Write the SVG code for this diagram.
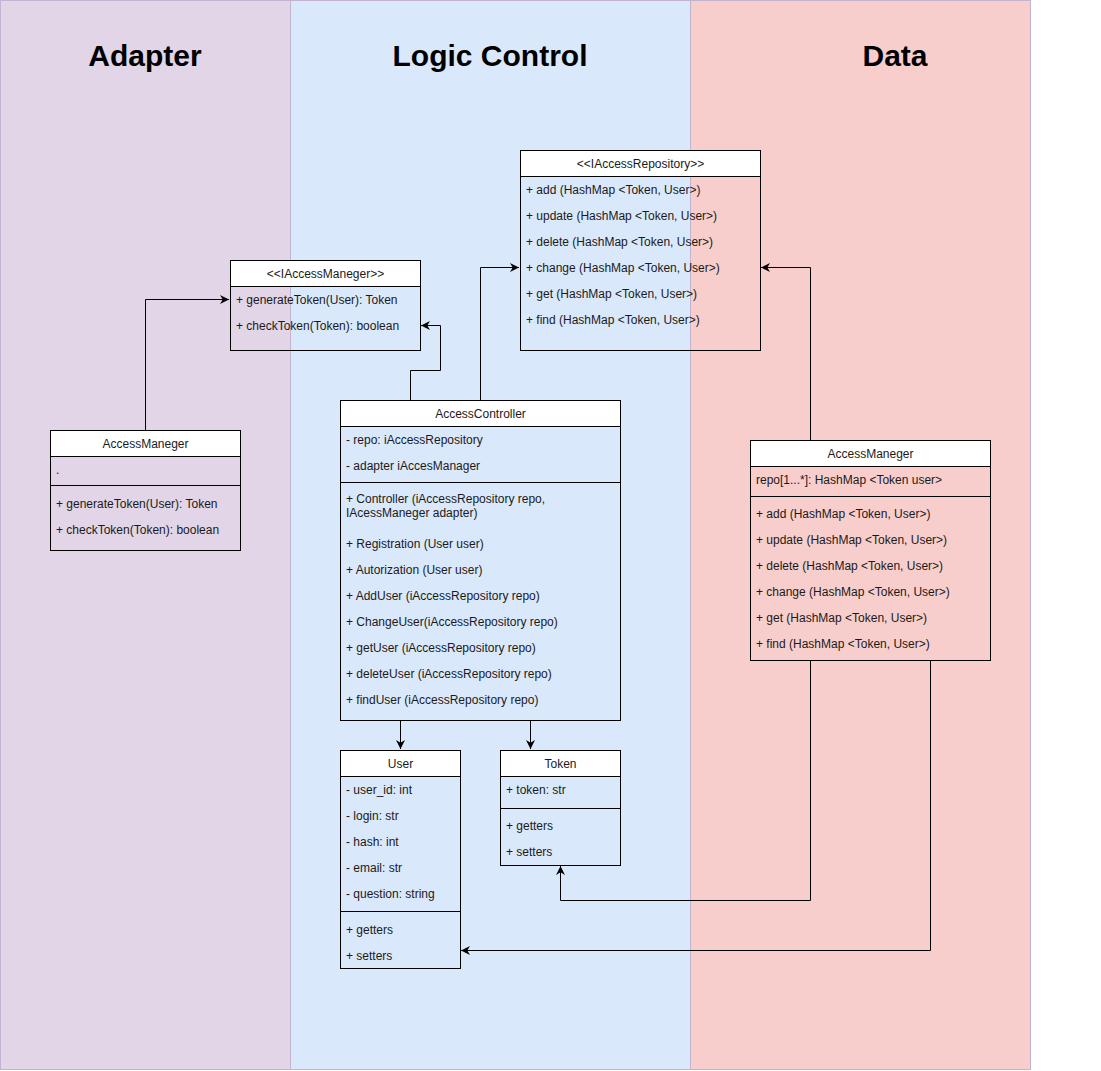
<svg xmlns="http://www.w3.org/2000/svg" width="1101" height="1071" viewBox="0 0 1101 1071">
<defs>
<style>
.lane{stroke:#c2b3d3;stroke-width:1}
.title{font-family:"Liberation Sans",Arial,sans-serif;font-size:30px;font-weight:bold;fill:#000;text-anchor:middle}
.hd{fill:#fff;stroke:#000;stroke-width:1}
.bx{fill:none;stroke:#000;stroke-width:1}
.dv{stroke:#000;stroke-width:1}
.t{font-family:"Liberation Sans",Arial,sans-serif;font-size:12px;fill:#1a1a1a}
.c{text-anchor:middle}
.cn{fill:none;stroke:#000;stroke-width:1}
</style>
<marker id="ar" viewBox="0 0 10 10" refX="10" refY="5" markerWidth="9" markerHeight="9" markerUnits="userSpaceOnUse" orient="auto">
<path d="M0 0 L10 5 L0 10 L3 5 Z" fill="#000"/>
</marker>
</defs>
<rect width="1101" height="1071" fill="#fff"/>
<g id="lanes">
<rect class="lane" x="0.5" y="0.5" width="290" height="1069" fill="#e1d5e7"/>
<rect class="lane" x="290.5" y="0.5" width="400" height="1069" fill="#dae8fc"/>
<rect class="lane" x="690.5" y="0.5" width="340" height="1069" fill="#f8cecc"/>
<text class="title" x="145" y="66">Adapter</text>
<text class="title" x="490" y="66">Logic Control</text>
<text class="title" x="895" y="66">Data</text>
</g>
<g id="connectors">
<path class="cn" d="M145.5 430 V299.5 H229" marker-end="url(#ar)"/>
<path class="cn" d="M410.5 400 V370.5 H440.5 V325.5 H421" marker-end="url(#ar)"/>
<path class="cn" d="M480.5 400 V267.5 H519" marker-end="url(#ar)"/>
<path class="cn" d="M810.5 440 V267.5 H761" marker-end="url(#ar)"/>
<path class="cn" d="M400.5 720 V749" marker-end="url(#ar)"/>
<path class="cn" d="M530.5 720 V749" marker-end="url(#ar)"/>
<path class="cn" d="M810.5 660 V900.5 H560.5 V866" marker-end="url(#ar)"/>
<path class="cn" d="M930.5 660 V950.5 H461" marker-end="url(#ar)"/>
</g>
<g id="IAccessRepository">
<rect class="hd" x="520.5" y="150.5" width="240" height="26"/>
<rect class="bx" x="520.5" y="150.5" width="240" height="200"/>
<text class="t c" x="640.5" y="167.5">&lt;&lt;IAccessRepository&gt;&gt;</text>
<text class="t" x="526" y="193.5">+ add (HashMap &lt;Token, User&gt;)</text>
<text class="t" x="526" y="219.5">+ update (HashMap &lt;Token, User&gt;)</text>
<text class="t" x="526" y="245.5">+ delete (HashMap &lt;Token, User&gt;)</text>
<text class="t" x="526" y="271.5">+ change (HashMap &lt;Token, User&gt;)</text>
<text class="t" x="526" y="297.5">+ get (HashMap &lt;Token, User&gt;)</text>
<text class="t" x="526" y="323.5">+ find (HashMap &lt;Token, User&gt;)</text>
</g>
<g id="IAccessManeger">
<rect class="hd" x="230.5" y="260.5" width="190" height="26"/>
<rect class="bx" x="230.5" y="260.5" width="190" height="90"/>
<text class="t c" x="325.5" y="277.5">&lt;&lt;IAccessManeger&gt;&gt;</text>
<text class="t" x="236" y="303.5">+ generateToken(User): Token</text>
<text class="t" x="236" y="329.5">+ checkToken(Token): boolean</text>
</g>
<g id="AccessManegerAdapter">
<rect class="hd" x="50.5" y="430.5" width="190" height="26"/>
<rect class="bx" x="50.5" y="430.5" width="190" height="120"/>
<text class="t c" x="145.5" y="447.5">AccessManeger</text>
<text class="t" x="56" y="473.5">.</text>
<line class="dv" x1="50.5" y1="485.5" x2="240.5" y2="485.5"/>
<text class="t" x="56" y="507.5">+ generateToken(User): Token</text>
<text class="t" x="56" y="533.5">+ checkToken(Token): boolean</text>
</g>
<g id="AccessController">
<rect class="hd" x="340.5" y="400.5" width="280" height="26"/>
<rect class="bx" x="340.5" y="400.5" width="280" height="320"/>
<text class="t c" x="480.5" y="417.5">AccessController</text>
<text class="t" x="346" y="443.5">- repo: iAccessRepository</text>
<text class="t" x="346" y="469.5">- adapter iAccesManager</text>
<line class="dv" x1="340.5" y1="482.5" x2="620.5" y2="482.5"/>
<text class="t" x="346" y="503">+ Controller (iAccessRepository repo,</text>
<text class="t" x="346" y="517">IAcessManeger adapter)</text>
<text class="t" x="346" y="547.5">+ Registration (User user)</text>
<text class="t" x="346" y="573.5">+ Autorization (User user)</text>
<text class="t" x="346" y="599.5">+ AddUser (iAccessRepository repo)</text>
<text class="t" x="346" y="625.5">+ ChangeUser(iAccessRepository repo)</text>
<text class="t" x="346" y="651.5">+ getUser (iAccessRepository repo)</text>
<text class="t" x="346" y="677.5">+ deleteUser (iAccessRepository repo)</text>
<text class="t" x="346" y="703.5">+ findUser (iAccessRepository repo)</text>
</g>
<g id="AccessManegerData">
<rect class="hd" x="750.5" y="440.5" width="240" height="26"/>
<rect class="bx" x="750.5" y="440.5" width="240" height="220"/>
<text class="t c" x="870.5" y="457.5">AccessManeger</text>
<text class="t" x="756" y="483.5">repo[1...*]: HashMap &lt;Token user&gt;</text>
<line class="dv" x1="750.5" y1="496.5" x2="990.5" y2="496.5"/>
<text class="t" x="756" y="517.5">+ add (HashMap &lt;Token, User&gt;)</text>
<text class="t" x="756" y="543.5">+ update (HashMap &lt;Token, User&gt;)</text>
<text class="t" x="756" y="569.5">+ delete (HashMap &lt;Token, User&gt;)</text>
<text class="t" x="756" y="595.5">+ change (HashMap &lt;Token, User&gt;)</text>
<text class="t" x="756" y="621.5">+ get (HashMap &lt;Token, User&gt;)</text>
<text class="t" x="756" y="647.5">+ find (HashMap &lt;Token, User&gt;)</text>
</g>
<g id="User">
<rect class="hd" x="340.5" y="750.5" width="120" height="26"/>
<rect class="bx" x="340.5" y="750.5" width="120" height="218"/>
<text class="t c" x="400.5" y="767.5">User</text>
<text class="t" x="346" y="793.5">- user_id: int</text>
<text class="t" x="346" y="819.5">- login: str</text>
<text class="t" x="346" y="845.5">- hash: int</text>
<text class="t" x="346" y="871.5">- email: str</text>
<text class="t" x="346" y="897.5">- question: string</text>
<line class="dv" x1="340.5" y1="911.5" x2="460.5" y2="911.5"/>
<text class="t" x="346" y="933.5">+ getters</text>
<text class="t" x="346" y="959.5">+ setters</text>
</g>
<g id="Token">
<rect class="hd" x="500.5" y="750.5" width="120" height="26"/>
<rect class="bx" x="500.5" y="750.5" width="120" height="115"/>
<text class="t c" x="560.5" y="767.5">Token</text>
<text class="t" x="506" y="793.5">+ token: str</text>
<line class="dv" x1="500.5" y1="808.5" x2="620.5" y2="808.5"/>
<text class="t" x="506" y="829.5">+ getters</text>
<text class="t" x="506" y="855.5">+ setters</text>
</g>
</svg>
